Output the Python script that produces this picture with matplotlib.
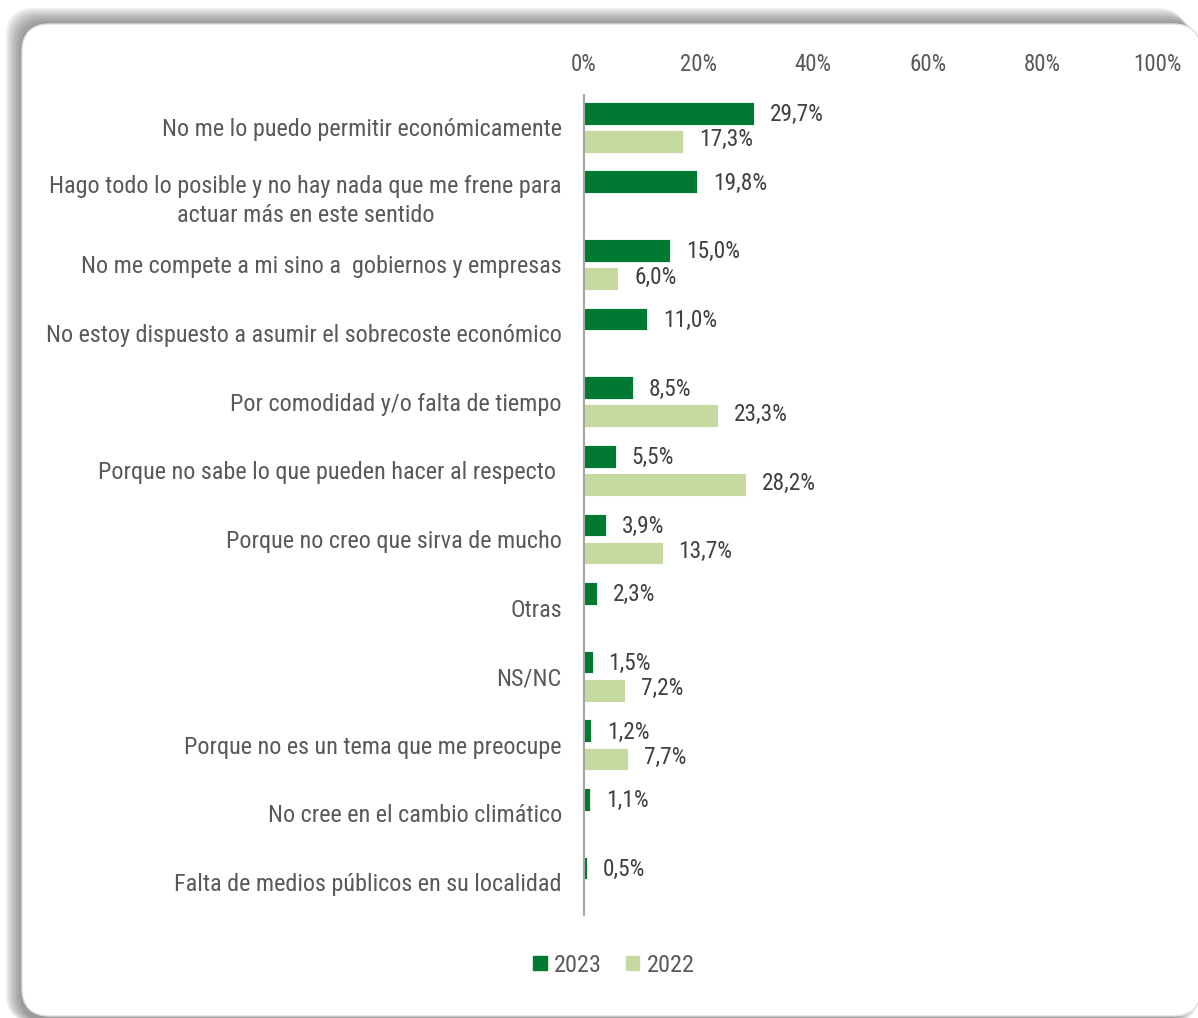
import numpy as np
import matplotlib.pyplot as plt
from matplotlib import font_manager
from matplotlib.patches import FancyBboxPatch

# pick a narrow face if one is around, else plain Roboto
names = {f.name for f in font_manager.fontManager.ttflist}
font = 'Roboto'
for cand in ['Roboto Condensed', 'Liberation Sans Narrow']:
    if cand in names:
        font = cand
        break
plt.rcParams['font.family'] = [font, 'DejaVu Sans']

categories = [
    'No me lo puedo permitir económicamente',
    'Hago todo lo posible y no hay nada que me frene para\nactuar más en este sentido',
    'No me compete a mi sino a  gobiernos y empresas',
    'No estoy dispuesto a asumir el sobrecoste económico',
    'Por comodidad y/o falta de tiempo',
    'Porque no sabe lo que pueden hacer al respecto ',
    'Porque no creo que sirva de mucho',
    'Otras',
    'NS/NC',
    'Porque no es un tema que me preocupe',
    'No cree en el cambio climático',
    'Falta de medios públicos en su localidad',
]
vals_2023 = [29.7, 19.8, 15.0, 11.0, 8.5, 5.5, 3.9, 2.3, 1.5, 1.2, 1.1, 0.5]
vals_2022 = [17.3, None, 6.0, None, 23.3, 28.2, 13.7, None, 7.2, 7.7, None, None]
ticks = [0, 20, 40, 60, 80, 100]

dark = '#007a33'
light = '#c5d9a0'
txt = '#595959'

W, H = 1198, 1018
fig = plt.figure(figsize=(W / 100, H / 100), dpi=100)

# rounded card (pixel units via inches) with a soft shadow up and to the left
bx, by_top, bx2, by_bot = 22, 24, 1201, 1016
r = 0.28
def card(dx, dy, **kw):
    return FancyBboxPatch(((bx - dx) / 100, (H - by_bot - 6) / 100),
                          (bx2 - bx) / 100, (by_bot - by_top + dy + 6) / 100,
                          boxstyle=f'round,pad=0,rounding_size={r}',
                          transform=fig.dpi_scale_trans, **kw)

for off in range(16, 0, -2):
    fig.patches.append(card(off, off, facecolor='#606060', edgecolor='none',
                            alpha=0.11, zorder=0))
fig.patches.append(FancyBboxPatch((bx / 100, (H - by_bot) / 100),
                                  (bx2 - bx) / 100, (by_bot - by_top) / 100,
                                  boxstyle=f'round,pad=0,rounding_size={r}',
                                  transform=fig.dpi_scale_trans, facecolor='white',
                                  edgecolor='#e0e0e0', linewidth=1, zorder=1))

x0, x1 = 584, 1157
ytop, ybot = 95, 915
ax = fig.add_axes([x0 / W, 1 - ybot / H, (x1 - x0) / W, (ybot - ytop) / H])
ax.set_zorder(2)
ax.patch.set_visible(False)

y = np.arange(len(categories))
bh = 0.33
off = 0.205

for i, v in enumerate(vals_2023):
    ax.barh(y[i] - off, v, height=bh, color=dark, edgecolor='white', linewidth=0.6)
    ax.annotate(f'{v:.1f}%'.replace('.', ','), (v, y[i] - off), xytext=(11.5, -1),
                textcoords='offset points', va='center', ha='left', fontsize=16.8, color='#404040')
for i, v in enumerate(vals_2022):
    if v is None:
        continue
    ax.barh(y[i] + off, v, height=bh, color=light, edgecolor='white', linewidth=0.6)
    ax.annotate(f'{v:.1f}%'.replace('.', ','), (v, y[i] + off), xytext=(11.5, 1),
                textcoords='offset points', va='center', ha='left', fontsize=16.8, color='#404040')

ax.set_xlim(0, 100)
ax.set_ylim(len(categories) - 1 + 0.48, -0.47)
ax.xaxis.tick_top()
ax.set_xticks(ticks)
ax.set_xticklabels([f'{t}%' for t in ticks])
ax.tick_params(axis='x', length=0, pad=14, labelsize=16.5, labelcolor=txt)
ax.set_yticks(y)
ax.set_yticklabels(categories, fontsize=17.4, color=txt, linespacing=1.32)
for t in ax.get_yticklabels():
    t.set_multialignment('center')
ax.tick_params(axis='y', length=0, pad=16)
for s in ['top', 'right', 'bottom']:
    ax.spines[s].set_visible(False)
ax.spines['left'].set_color('#a6a6a6')
ax.spines['left'].set_linewidth(1.5)

h1 = plt.Rectangle((0, 0), 1, 1, color=dark)
h2 = plt.Rectangle((0, 0), 1, 1, color=light)
fig.legend([h1, h2], ['2023', '2022'], loc='center', bbox_to_anchor=(614 / W, 1 - 965 / H),
           ncol=2, frameon=False, fontsize=17.5, labelcolor=txt, handlelength=0.55,
           handleheight=0.55, handletextpad=0.3, columnspacing=1.0)

fig.savefig('out.png', dpi=100)
